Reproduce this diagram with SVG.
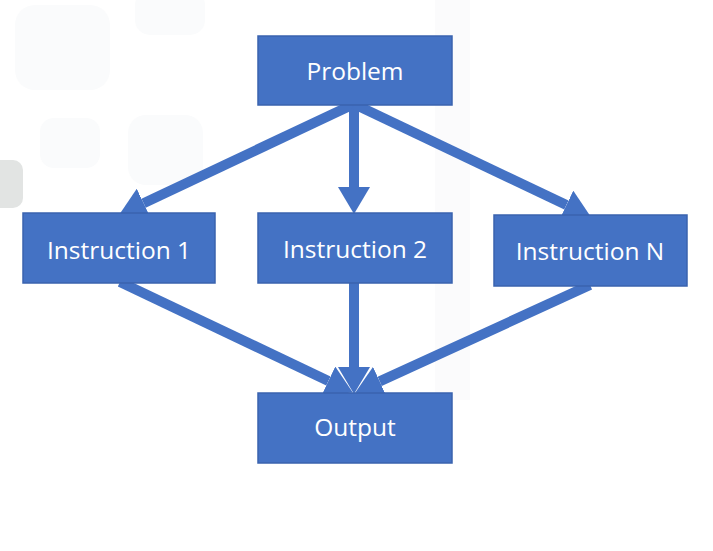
<svg xmlns="http://www.w3.org/2000/svg" width="713" height="551" viewBox="0 0 713 551">
  <style>
    .box { fill: #4472C4; stroke: #3A63AE; stroke-width: 1.5; }
    .lbl { fill: #ffffff; font-family: "Open Sans", "Noto Sans", "Liberation Sans", sans-serif; font-size: 24.5px; text-anchor: middle; }
    .conn { stroke: #4472C4; stroke-width: 10; fill: none; }
    .bg { fill: #fafbfc; }
  </style>
  <defs>
    <marker id="ah" markerUnits="userSpaceOnUse" viewBox="0 -16 27 32" markerWidth="27" markerHeight="32" refX="0" refY="0" orient="auto">
      <path d="M0,-16 L27,0 L0,16 z" fill="#4472C4"/>
    </marker>
  </defs>
  <rect width="713" height="551" fill="#ffffff"/>
  <g id="background">
    <rect class="bg" x="15" y="5" width="95" height="85" rx="20"/>
    <rect class="bg" x="135" y="-10" width="70" height="45" rx="15"/>
    <rect class="bg" x="40" y="118" width="60" height="50" rx="14"/>
    <rect class="bg" x="128" y="115" width="75" height="70" rx="18"/>
    <rect x="435" y="0" width="35" height="400" fill="#fbfbfc"/>
    <rect x="-10" y="160" width="33" height="48" rx="10" fill="#e2e4e3"/>
  </g>
  <g id="connectors">
    <line class="conn" x1="354" y1="104" x2="143.6" y2="203.2" marker-end="url(#ah)"/>
    <line class="conn" x1="354" y1="104" x2="354" y2="187" marker-end="url(#ah)"/>
    <line class="conn" x1="354" y1="104" x2="566.4" y2="205.1" marker-end="url(#ah)"/>
    <line class="conn" x1="120" y1="282" x2="328.4" y2="381" marker-end="url(#ah)"/>
    <line class="conn" x1="354" y1="282" x2="354" y2="367" marker-end="url(#ah)"/>
    <line class="conn" x1="590" y1="285" x2="379.7" y2="381.4" marker-end="url(#ah)"/>
  </g>
  <g id="problem">
    <rect class="box" x="258" y="36" width="194" height="69"/>
    <text class="lbl" x="355" y="80">Problem</text>
  </g>
  <g id="instruction1">
    <rect class="box" x="23" y="213" width="192" height="70"/>
    <text class="lbl" x="119" y="259">Instruction 1</text>
  </g>
  <g id="instruction2">
    <rect class="box" x="258" y="213" width="194" height="70"/>
    <text class="lbl" x="355" y="258">Instruction 2</text>
  </g>
  <g id="instructionN">
    <rect class="box" x="494" y="215" width="193" height="71"/>
    <text class="lbl" x="590" y="260">Instruction N</text>
  </g>
  <g id="output">
    <rect class="box" x="258" y="393" width="194" height="70"/>
    <text class="lbl" x="355" y="436">Output</text>
  </g>
</svg>
